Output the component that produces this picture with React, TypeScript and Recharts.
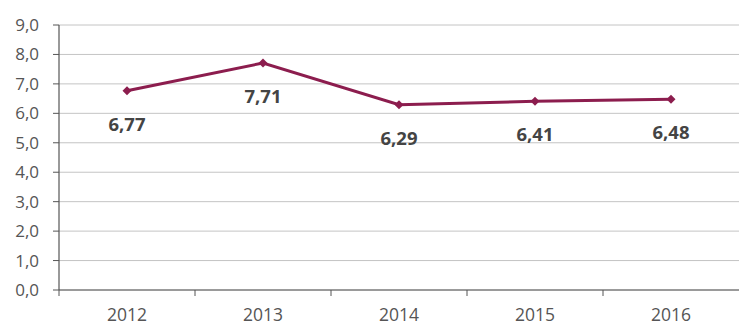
import React from "react";
import { LineChart, Line, XAxis, YAxis, CartesianGrid, LabelList } from "recharts";

const years = ["2012", "2013", "2014", "2015", "2016"];
const values = [6.77, 7.71, 6.29, 6.41, 6.48];
const yTicks = [0, 1, 2, 3, 4, 5, 6, 7, 8, 9];

const data = years.map((y, i) => ({ year: y, value: values[i] }));

const fmt = (v: number, d: number) => v.toFixed(d).replace(".", ",");

const FONT = "'Open Sans', 'Noto Sans', sans-serif";
const LINE = "#8c1d4e";

const XTick = (props: any) => {
  const { x, y, payload } = props;
  const band = 136;
  return (
    <g>
      <line x1={x - band / 2} y1={y - 8} x2={x - band / 2} y2={y - 2} stroke="#555" strokeWidth={1} />
      <text x={x} y={y + 23} textAnchor="middle" fill="#555" fontSize={17.5} fontFamily={FONT}>
        {payload.value}
      </text>
    </g>
  );
};

const Diamond = (props: any) => {
  const { cx, cy } = props;
  if (cx == null || cy == null) return null;
  const s = 4.5;
  return <path d={`M${cx},${cy - s}L${cx + s},${cy}L${cx},${cy + s}L${cx - s},${cy}Z`} fill={LINE} />;
};

const ValueLabel = (props: any) => {
  const { x, y, value } = props;
  return (
    <text x={x} y={y + 40} textAnchor="middle" fill="#444" fontSize={18.5} fontWeight="bold" fontFamily={FONT}>
      {fmt(value, 2)}
    </text>
  );
};

export default function App() {
  return (
    <div style={{ position: "absolute", left: 0, top: 0, width: 740, height: 326, background: "#fff" }}>
      <LineChart width={740} height={326} data={data} margin={{ top: 25, right: 1, bottom: 0, left: 0 }}>
        <CartesianGrid vertical={false} stroke="#c4c4c4" strokeWidth={1} />
        <XAxis
          dataKey="year"
          scale="band"
          height={36}
          axisLine={{ stroke: "#555", strokeWidth: 1.2 }}
          tickLine={false}
          tick={<XTick />}
          interval={0}
        />
        <YAxis
          width={59}
          domain={[0, 9]}
          ticks={yTicks}
          interval={0}
          tickFormatter={(v: number) => fmt(v, 1)}
          axisLine={{ stroke: "#555", strokeWidth: 1.2 }}
          tickLine={{ stroke: "#555" }}
          tickSize={6}
          tickMargin={14}
          tick={{ fill: "#555", fontSize: 17, fontFamily: FONT }}
        />
        <Line
          type="linear"
          dataKey="value"
          stroke={LINE}
          strokeWidth={3}
          dot={<Diamond />}
          activeDot={false}
          isAnimationActive={false}
        >
          <LabelList dataKey="value" content={<ValueLabel />} />
        </Line>
      </LineChart>
    </div>
  );
}
